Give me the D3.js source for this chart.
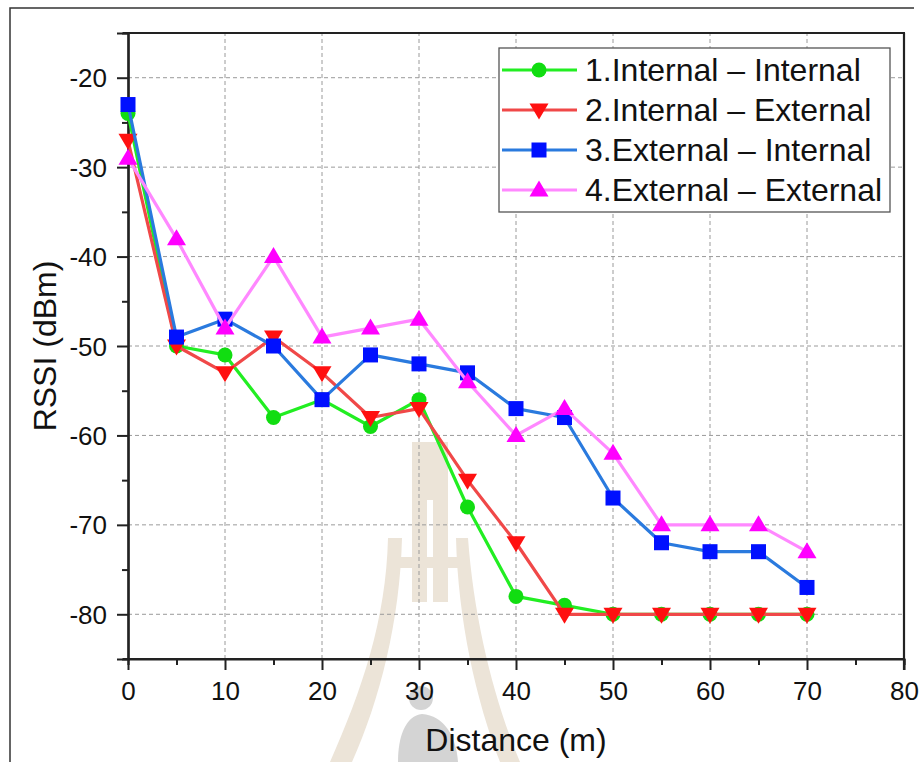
<!DOCTYPE html>
<html>
<head>
<meta charset="utf-8">
<script src="https://cdn.jsdelivr.net/npm/d3@7"></script>
<style>
  body { margin: 0; background: #fff; }
  text { font-family: "Liberation Sans", Arial, sans-serif; fill: #111; }
</style>
</head>
<body>
<svg id="chart"></svg>
<script>
// distances (m)
const distances = [0, 5, 10, 15, 20, 25, 30, 35, 40, 45, 50, 55, 60, 65, 70];

// RSSI values (dBm)
const internalInternal = [-24, -50, -51, -58, -56, -59, -56, -68, -78, -79, -80, -80, -80, -80, -80];
const internalExternal = [-27, -50, -53, -49, -53, -58, -57, -65, -72, -80, -80, -80, -80, -80, -80];
const externalInternal = [-23, -49, -47, -50, -56, -51, -52, -53, -57, -58, -67, -72, -73, -73, -77];
const externalExternal = [-29, -38, -48, -40, -49, -48, -47, -54, -60, -57, -62, -70, -70, -70, -73];

const seriesNames = ["1.Internal \u2013 Internal", "2.Internal \u2013 External", "3.External \u2013 Internal", "4.External \u2013 External"];
const xTicks = [0, 10, 20, 30, 40, 50, 60, 70, 80];
const yTicks = [-20, -30, -40, -50, -60, -70, -80];

const width = 922, height = 762;
const margin = { left: 128, top: 33, right: 18, bottom: 103 };

const svg = d3.select("#chart").attr("width", width).attr("height", height);

// faint watermark behind the chart
const beige = "#ece4d8";
const wm = svg.append("g").attr("class", "watermark");
wm.append("path")
    .attr("d", "M412,442 L448,442 L448,602 L433,602 L433,500 L427,500 L427,602 L412,602 Z")
    .attr("fill", beige);
wm.append("path")
    .attr("d", "M388,538 L402,538 C400,620 380,700 352,762 L330,762 C362,690 386,620 388,538 Z")
    .attr("fill", beige);
wm.append("path")
    .attr("d", "M456,538 L468,538 C474,620 494,700 520,762 L500,762 C476,700 458,620 456,538 Z")
    .attr("fill", beige);
wm.append("rect").attr("x", 400).attr("y", 557).attr("width", 58).attr("height", 11).attr("fill", beige);
wm.append("circle").attr("cx", 421).attr("cy", 698).attr("r", 12).attr("fill", "#d4d4d4");
wm.append("path")
    .attr("d", "M398,762 C398,735 406,716 422,714 C444,716 456,735 458,762 Z")
    .attr("fill", "#d4d4d4");

// outer frame (only top/left visible)
svg.append("path").attr("d", "M10,762 L10,8 L914,8").attr("fill", "none").attr("stroke", "#333").attr("stroke-width", 1.5);

const x = d3.scaleLinear().domain([0, 80]).range([margin.left, width - margin.right]);
const y = d3.scaleLinear().domain([-85, -15]).range([height - margin.bottom, margin.top]);

// grid
const grid = svg.append("g").attr("stroke", "#9a9a9a").attr("stroke-width", 1).attr("stroke-dasharray", "4,3");
grid.selectAll(".gx").data(xTicks.slice(1, -1)).join("line")
    .attr("x1", d => x(d)).attr("x2", d => x(d))
    .attr("y1", y(-85)).attr("y2", y(-15));
grid.selectAll(".gy").data(yTicks).join("line")
    .attr("x1", x(0)).attr("x2", x(80))
    .attr("y1", d => y(d)).attr("y2", d => y(d));

// axes
const xAxis = svg.append("g")
    .attr("transform", `translate(0,${y(-85)})`)
    .call(d3.axisBottom(x).tickValues(xTicks).tickSize(11).tickPadding(12).tickFormat(d3.format("d")));
const xMinor = svg.append("g")
    .attr("transform", `translate(0,${y(-85)})`)
    .call(d3.axisBottom(x).tickValues(d3.range(5, 80, 10)).tickSize(6).tickFormat(""));
const yAxis = svg.append("g")
    .attr("transform", `translate(${x(0)},0)`)
    .call(d3.axisLeft(y).tickValues(yTicks).tickSize(11).tickPadding(10).tickFormat(d => d));
const yMinor = svg.append("g")
    .attr("transform", `translate(${x(0)},0)`)
    .call(d3.axisLeft(y).tickValues([-25, -35, -45, -55, -65, -75]).tickSize(6).tickFormat(""));

[xAxis, xMinor, yAxis, yMinor].forEach(g => {
    g.select(".domain").attr("stroke", "#222").attr("stroke-width", 2.2);
    g.selectAll(".tick line").attr("stroke", "#222").attr("stroke-width", 2);
    g.selectAll(".tick text").attr("font-size", 26).attr("font-family", "Liberation Sans, Arial, sans-serif").attr("fill", "#111");
});
xAxis.selectAll(".tick text").attr("dy", "0.71em");
yAxis.selectAll(".tick text").attr("dy", "0.35em");
xAxis.select(".domain").attr("d", `M${x(0) - 5},0H${x(80)}`);

// top and right frame lines
svg.append("line").attr("x1", x(0) - 5).attr("x2", x(80) + 1).attr("y1", y(-15)).attr("y2", y(-15))
    .attr("stroke", "#222").attr("stroke-width", 2.2);
svg.append("line").attr("x1", x(80)).attr("x2", x(80)).attr("y1", y(-15)).attr("y2", y(-85) + 11)
    .attr("stroke", "#222").attr("stroke-width", 2.2);

// axis titles
svg.append("text")
    .attr("x", (x(0) + x(80)) / 2).attr("y", 751)
    .attr("text-anchor", "middle").attr("font-size", 32)
    .text("Distance (m)");
svg.append("text")
    .attr("transform", `translate(56,${(y(-15) + y(-85)) / 2}) rotate(-90)`)
    .attr("text-anchor", "middle").attr("font-size", 32)
    .text("RSSI (dBm)");

// series
const series = [
    { name: seriesNames[0], values: internalInternal, line: "#22ee22", fill: "#11dd11", symbol: "circle" },
    { name: seriesNames[1], values: internalExternal, line: "#f04848", fill: "#ff1010", symbol: "down" },
    { name: seriesNames[2], values: externalInternal, line: "#2a7ade", fill: "#0010ff", symbol: "square" },
    { name: seriesNames[3], values: externalExternal, line: "#ff88ff", fill: "#ff00ff", symbol: "up" }
];

function drawMarker(g, symbol, cx, cy, color) {
    if (symbol === "circle") {
        g.append("circle").attr("cx", cx).attr("cy", cy).attr("r", 7.5).attr("fill", color);
    } else if (symbol === "square") {
        g.append("rect").attr("x", cx - 7.5).attr("y", cy - 7.5).attr("width", 15).attr("height", 15).attr("fill", color);
    } else if (symbol === "down") {
        g.append("path").attr("d", `M${cx - 9.5},${cy - 6.5} L${cx + 9.5},${cy - 6.5} L${cx},${cy + 9.5} Z`).attr("fill", color);
    } else {
        g.append("path").attr("d", `M${cx - 9.5},${cy + 6.5} L${cx + 9.5},${cy + 6.5} L${cx},${cy - 9.5} Z`).attr("fill", color);
    }
}

const line = d3.line().x(d => x(d[0])).y(d => y(d[1]));

series.forEach(s => {
    const pts = distances.map((d, i) => [d, s.values[i]]);
    const g = svg.append("g");
    g.append("path").datum(pts).attr("d", line)
        .attr("fill", "none").attr("stroke", s.line).attr("stroke-width", 3.2).attr("stroke-linejoin", "round");
    pts.forEach(p => drawMarker(g, s.symbol, x(p[0]), y(p[1]), s.fill));
});

// legend
const legend = svg.append("g");
legend.append("rect").attr("x", 499).attr("y", 48).attr("width", 391).attr("height", 164)
    .attr("fill", "#fff").attr("stroke", "#555").attr("stroke-width", 1.3);
series.forEach((s, i) => {
    const cy = 70 + i * 40;
    legend.append("line").attr("x1", 502).attr("x2", 577).attr("y1", cy).attr("y2", cy)
        .attr("stroke", s.line).attr("stroke-width", 3.2);
    drawMarker(legend, s.symbol, 539, cy, s.fill);
    legend.append("text").attr("x", 585).attr("y", cy).attr("dy", "0.35em")
        .attr("font-size", 32).text(s.name);
});
</script>
</body>
</html>
